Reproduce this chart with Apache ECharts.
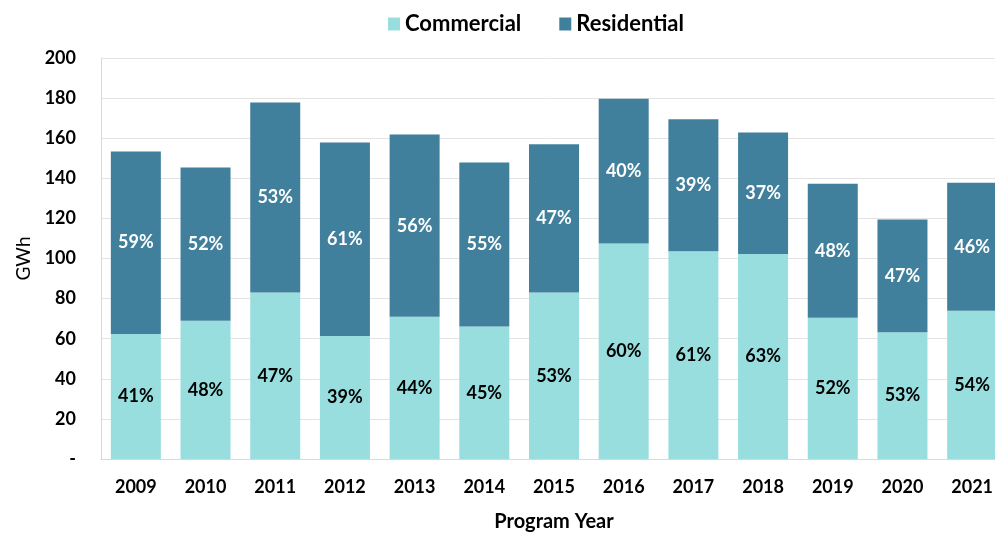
<!DOCTYPE html>
<html>
<head>
<meta charset="utf-8">
<script src="https://cdn.jsdelivr.net/npm/echarts@6/dist/echarts.min.js"></script>
<style>
  html, body { margin: 0; padding: 0; background: #fff; }
  #chart { width: 995px; height: 534px; }
</style>
</head>
<body>
<div id="chart"></div>
<script>
// data (GWh)
const years = ['2009', '2010', '2011', '2012', '2013', '2014', '2015', '2016', '2017', '2018', '2019', '2020', '2021']
const commercial = [62.4, 68.9, 83.0, 61.4, 70.9, 66.1, 83.0, 107.5, 103.6, 102.3, 70.4, 63.2, 73.9]
const residential = [91.0, 76.5, 94.8, 96.5, 90.9, 81.8, 74.0, 72.2, 65.9, 60.5, 66.9, 56.3, 63.9]
const commercialPct = ['41%', '48%', '47%', '39%', '44%', '45%', '53%', '60%', '61%', '63%', '52%', '53%', '54%']
const residentialPct = ['59%', '52%', '53%', '61%', '56%', '55%', '47%', '40%', '39%', '37%', '48%', '47%', '46%']

const FONT = 'Lato, "Open Sans", sans-serif'

const chart = echarts.init(document.getElementById('chart'))

const option = {
  backgroundColor: '#fff',
  animation: false,
  textStyle: { fontFamily: FONT },
  legend: {
    top: 8,
    left: 383,
    itemWidth: 12,
    itemHeight: 13,
    itemGap: 38,
    icon: 'rect',
    textStyle: { fontSize: 22, fontWeight: 'bold', color: '#000', fontFamily: FONT },
    data: ['Commercial', 'Residential'],
  },
  grid: {
    left: 101,
    right: -12,
    top: 58,
    bottom: 75,
    outerBoundsMode: 'none',
    containLabel: false,
  },
  xAxis: {
    type: 'category',
    data: years,
    name: 'Program Year',
    nameLocation: 'middle',
    nameGap: 53,
    nameTextStyle: { fontSize: 20, fontWeight: 'bold', color: '#000', fontFamily: FONT },
    axisLine: { lineStyle: { color: '#D9D9D9' } },
    axisTick: { show: false },
    axisLabel: { fontSize: 18, fontWeight: 'bold', color: '#000', margin: 19, fontFamily: FONT },
  },
  yAxis: {
    type: 'value',
    min: 0,
    max: 200,
    interval: 20,
    name: 'GWh',
    nameLocation: 'middle',
    nameGap: 64,
    nameTextStyle: { fontSize: 19, color: '#000', fontFamily: FONT },
    axisLine: { show: true, lineStyle: { color: '#D9D9D9' } },
    axisTick: { show: false },
    splitLine: { lineStyle: { color: '#E3E3E3' } },
    axisLabel: {
      fontSize: 18,
      fontWeight: 'bold',
      color: '#000',
      margin: 25,
      fontFamily: FONT,
      formatter: v => (v === 0 ? '-' : v),
    },
  },
  series: [
    {
      name: 'Commercial',
      type: 'bar',
      stack: 'total',
      barWidth: 50,
      data: commercial,
      itemStyle: { color: '#98DEDF' },
      label: {
        show: true,
        position: 'inside',
        fontSize: 18,
        fontWeight: 'bold',
        color: '#000',
        fontFamily: FONT,
        formatter: p => commercialPct[p.dataIndex],
      },
    },
    {
      name: 'Residential',
      type: 'bar',
      stack: 'total',
      barWidth: 50,
      data: residential,
      itemStyle: { color: '#41809C' },
      label: {
        show: true,
        position: 'inside',
        fontSize: 18,
        fontWeight: 'bold',
        color: '#fff',
        fontFamily: FONT,
        formatter: p => residentialPct[p.dataIndex],
      },
    },
  ],
}

chart.setOption(option)
</script>
</body>
</html>
